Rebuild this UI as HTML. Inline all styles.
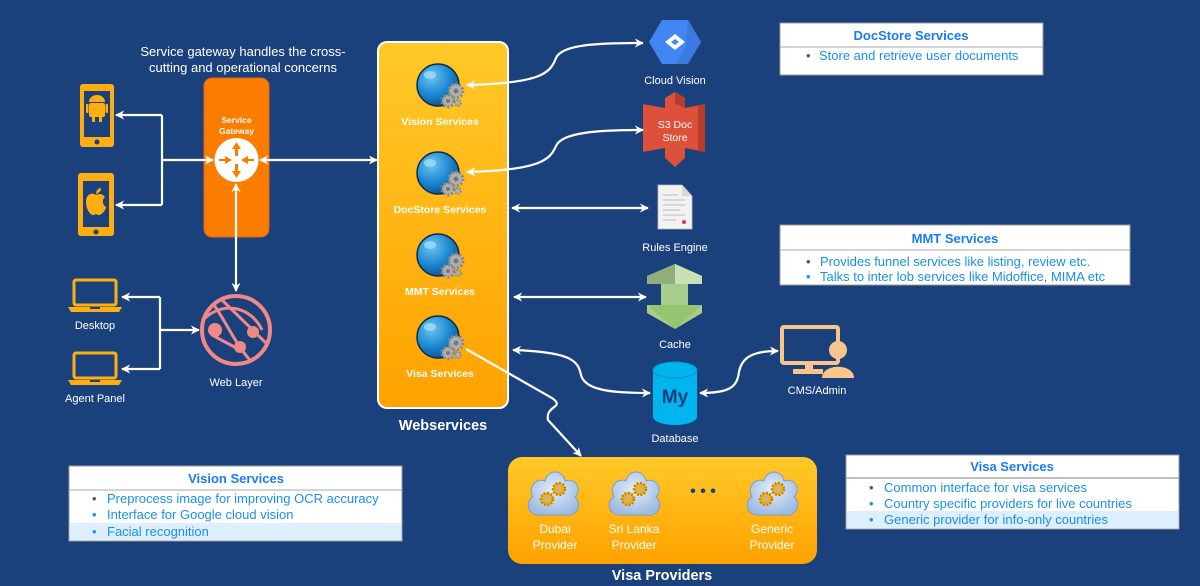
<!DOCTYPE html>
<html><head><meta charset="utf-8">
<style>
html,body{margin:0;padding:0;background:#1b417c;}
svg{display:block;font-family:"Liberation Sans",sans-serif;}
</style></head>
<body>
<svg width="1200" height="586" viewBox="0 0 1200 586" xmlns="http://www.w3.org/2000/svg">
<defs>
<marker id="ah" viewBox="0 0 10 10" refX="9" refY="5" markerWidth="9" markerHeight="9" orient="auto-start-reverse" markerUnits="userSpaceOnUse">
<path d="M0,0 L10,5 L0,10 L3,5 z" fill="#fff"/>
</marker>
<linearGradient id="ws" x1="0" y1="0" x2="0" y2="1"><stop offset="0" stop-color="#ffc928"/><stop offset="1" stop-color="#ffa200"/></linearGradient>
<radialGradient id="gl" cx="0.35" cy="0.3" r="0.75"><stop offset="0" stop-color="#6cc4f0"/><stop offset="0.6" stop-color="#1a86d0"/><stop offset="1" stop-color="#0d4f8a"/></radialGradient>
<radialGradient id="cl" cx="0.5" cy="0.4" r="0.6"><stop offset="0" stop-color="#e4eefa"/><stop offset="1" stop-color="#9dbbe3"/></radialGradient>
<g id="globe">
<circle cx="0" cy="0" r="21" fill="url(#gl)" stroke="#0b2a50" stroke-width="1.5"/>
<ellipse cx="-8" cy="-10" rx="6" ry="4" fill="#9fdcf8" opacity="0.8"/>
<circle cx="18" cy="6" r="7" fill="#b0b0b0" stroke="#888" stroke-width="3" stroke-dasharray="2 2"/>
<circle cx="18" cy="6" r="2.5" fill="#777"/>
<circle cx="10" cy="16" r="6" fill="#b0b0b0" stroke="#888" stroke-width="3" stroke-dasharray="2 2"/>
<circle cx="10" cy="16" r="2" fill="#777"/>
<circle cx="20" cy="18" r="3" fill="#b0b0b0" stroke="#888" stroke-width="2" stroke-dasharray="1.5 1.5"/>
</g>
<g id="cloud">
<path d="M-14,22 C-26,22 -28,8 -20,4 C-26,-6 -16,-16 -8,-12 C-6,-24 10,-24 12,-12 C22,-16 30,-4 22,4 C30,10 24,24 14,22 Z" fill="url(#cl)" stroke="#7a9ccc" stroke-width="1"/>
<circle cx="6" cy="-4" r="6" fill="#f0b020" stroke="#c48400" stroke-width="2.5" stroke-dasharray="2 1.5"/>
<circle cx="6" cy="-4" r="2" fill="#9dbbe3"/>
<circle cx="-6" cy="6" r="6" fill="#f0b020" stroke="#c48400" stroke-width="2.5" stroke-dasharray="2 1.5"/>
<circle cx="-6" cy="6" r="2" fill="#9dbbe3"/>
</g>
<g id="laptop">
<rect x="6" y="0" width="42" height="25" rx="2" fill="none" stroke="#ffae12" stroke-width="3"/>
<path d="M0,27 L54,27 L51,32 L3,32 Z" fill="#ffae12"/>
<rect x="22" y="27" width="10" height="2" fill="#1b417c"/>
</g>
</defs>

<!-- top caption -->
<text x="243" y="56" fill="#fff" font-size="13" text-anchor="middle">Service gateway handles the cross-</text>
<text x="243" y="72" fill="#fff" font-size="13" text-anchor="middle">cutting and operational concerns</text>

<!-- phones -->
<rect x="80" y="84" width="34" height="63" rx="3" fill="#ffae12"/>
<rect x="84" y="91" width="26" height="46" fill="#1b417c"/>
<circle cx="97" cy="142" r="2.5" fill="#1b417c"/>
<rect x="89" y="103" width="16" height="14" rx="2" fill="#ffae12"/>
<path d="M89,102 A8,7 0 0 1 105,102 Z" fill="#ffae12"/>
<rect x="86" y="104" width="2.5" height="9" rx="1" fill="#ffae12"/><rect x="105.5" y="104" width="2.5" height="9" rx="1" fill="#ffae12"/>
<rect x="92" y="116" width="3" height="6" fill="#ffae12"/><rect x="99" y="116" width="3" height="6" fill="#ffae12"/>
<rect x="78" y="173" width="36" height="63" rx="3" fill="#ffae12"/>
<rect x="83" y="181" width="26" height="46" fill="#1b417c"/>
<circle cx="96" cy="232" r="2.5" fill="#1b417c"/>
<path d="M96,195 C92,192 86,194 86,202 C86,210 91,216 94,215 C95,214 97,214 98,215 C101,216 106,210 106,207 C102,205 102,199 105,197 C103,194 99,193 96,195 Z" fill="#ffae12"/>
<path d="M96,194 C96,191 98,188 101,188 C101,191 99,193 96,194 Z" fill="#ffae12"/>

<!-- laptops -->
<use href="#laptop" x="68" y="280"/>
<text x="95" y="329" fill="#fff" font-size="11" text-anchor="middle">Desktop</text>
<use href="#laptop" x="68" y="353"/>
<text x="95" y="402" fill="#fff" font-size="11" text-anchor="middle">Agent Panel</text>

<!-- service gateway -->
<rect x="204" y="78" width="65" height="159" rx="8" fill="#fb7d00" stroke="#e4611e" stroke-width="1"/>
<text x="236.5" y="123" fill="#fff" font-size="8.5" font-weight="bold" text-anchor="middle">Service</text>
<text x="236.5" y="134" fill="#fff" font-size="8.5" font-weight="bold" text-anchor="middle">Gateway</text>
<circle cx="236.5" cy="160" r="22" fill="#fff"/>
<g fill="#fb7d00">
<path d="M236.5,142 L232,149 L235,149 L235,156 L238,156 L238,149 L241,149 Z"/>
<path d="M236.5,178 L232,171 L235,171 L235,164 L238,164 L238,171 L241,171 Z"/>
<path d="M232,160 L225,156 L225,159 L219,159 L219,161 L225,161 L225,164 Z"/>
<path d="M241,160 L248,156 L248,159 L254,159 L254,161 L248,161 L248,164 Z"/>
</g>

<!-- web layer -->
<g stroke="#f08888" fill="none" stroke-width="4">
<circle cx="236" cy="330" r="34" fill="none" stroke-width="4"/>
<path d="M214,305 C225,320 236,345 250,360" stroke-width="3"/>
<path d="M205,318 C225,300 252,308 262,330" stroke-width="3"/>
<path d="M222,300 L268,345" stroke-width="3"/>
<path d="M212,335 L240,350" stroke-width="3"/>
</g>
<circle cx="215" cy="330" r="7" fill="#f08888"/>
<circle cx="253" cy="332" r="6" fill="#f08888"/>
<circle cx="240" cy="347" r="6" fill="#f08888"/>
<text x="236" y="386" fill="#fff" font-size="11" text-anchor="middle">Web Layer</text>

<!-- webservices -->
<rect x="378" y="42" width="130" height="366" rx="9" fill="url(#ws)" stroke="#fff" stroke-width="2"/>
<use href="#globe" x="438" y="85"/>
<text x="440" y="125" fill="#fff" font-size="10.5" font-weight="bold" text-anchor="middle">Vision Services</text>
<use href="#globe" x="438" y="173"/>
<text x="440" y="213" fill="#fff" font-size="10.5" font-weight="bold" text-anchor="middle">DocStore Services</text>
<use href="#globe" x="438" y="255"/>
<text x="440" y="295" fill="#fff" font-size="10.5" font-weight="bold" text-anchor="middle">MMT Services</text>
<use href="#globe" x="438" y="337"/>
<text x="440" y="377" fill="#fff" font-size="10.5" font-weight="bold" text-anchor="middle">Visa Services</text>
<text x="443" y="430" fill="#fff" font-size="14.5" font-weight="bold" text-anchor="middle">Webservices</text>

<!-- right icons -->
<polygon points="662,20 688,20 701,42 688,64 662,64 649,42" fill="#4285f4"/>
<path d="M688,20 L701,42 L688,64 L676,64 L686,46 Z" fill="#3b78e0"/>
<path d="M675,34 L685,42 L675,50 L665,42 Z" fill="#fff"/>
<path d="M675,39 L679,42 L675,45 L671,42 Z" fill="#4285f4"/>
<text x="675" y="84" fill="#fff" font-size="11" text-anchor="middle">Cloud Vision</text>

<path d="M665,98 L675,92 L685,98 L685,108 L705,104 L705,152 L685,148 L685,158 L675,167 L665,158 L665,148 L643,152 L643,104 L665,108 Z" fill="#dd5039"/>
<path d="M675,92 L685,98 L685,108 L675,104 Z M705,104 L705,152 L698,151 L698,106 Z" fill="#b83c2a"/>
<text x="675" y="128" fill="#fff" font-size="10.5" text-anchor="middle">S3 Doc</text>
<text x="675" y="141" fill="#fff" font-size="10.5" text-anchor="middle">Store</text>

<path d="M658,185 L682,185 L692,196 L692,229 L658,229 Z" fill="#f2f2f2" stroke="#bbb" stroke-width="0.8"/>
<path d="M682,185 L682,196 L692,196 Z" fill="#d8d8d8"/>
<g stroke="#aaa" stroke-width="0.8"><line x1="663" y1="195" x2="678" y2="195"/><line x1="663" y1="200" x2="685" y2="200"/><line x1="663" y1="205" x2="685" y2="205"/><line x1="663" y1="210" x2="680" y2="210"/><line x1="663" y1="215" x2="685" y2="215"/><line x1="663" y1="220" x2="676" y2="220"/></g>
<circle cx="684" cy="222" r="2" fill="#c44"/>
<text x="675" y="251" fill="#fff" font-size="11" text-anchor="middle">Rules Engine</text>

<path d="M647,276 L675,264 L702,276 L702,284 L688,284 L688,305 L702,305 L702,313 L675,329 L647,313 L647,305 L661,305 L661,284 L647,284 Z" fill="#a8cc8c"/>
<path d="M647,276 L675,264 L702,276 L702,284 L647,284 Z" fill="#8fae7c"/>
<path d="M675,264 L702,276 L702,284 L675,284 Z" fill="#c8e0b4"/>
<path d="M647,305 L702,305 L675,329 Z" fill="#96c470"/>
<text x="675" y="348" fill="#fff" font-size="11" text-anchor="middle">Cache</text>

<path d="M653,370 L653,417 A22,8 0 0 0 697,417 L697,370 Z" fill="#00b4ee"/>
<ellipse cx="675" cy="370" rx="22" ry="8" fill="#00b4ee" stroke="#0e8fc4" stroke-width="1"/>
<text x="675" y="403" fill="#1b3f7c" font-size="19" font-weight="bold" text-anchor="middle">My</text>
<text x="675" y="442" fill="#fff" font-size="11" text-anchor="middle">Database</text>

<rect x="782" y="327" width="56" height="36" rx="2" fill="none" stroke="#f8c58a" stroke-width="4"/>
<rect x="805" y="363" width="8" height="7" fill="#f8c58a"/>
<rect x="793" y="369" width="30" height="5" fill="#f8c58a"/>
<circle cx="838" cy="350" r="9" fill="#f8c58a"/>
<path d="M822,378 C822,363 854,363 854,378 Z" fill="#f8c58a"/>
<text x="817" y="394" fill="#fff" font-size="11" text-anchor="middle">CMS/Admin</text>

<!-- connectors -->
<g stroke="#fff" stroke-width="2.2" fill="none">
<path d="M162,115 L162,205"/>
<path d="M162,115 L116,115" marker-end="url(#ah)"/>
<path d="M162,205 L116,205" marker-end="url(#ah)"/>
<path d="M162,160 L213,160" marker-end="url(#ah)"/>
<path d="M260,160 L377,160" marker-start="url(#ah)" marker-end="url(#ah)"/>
<path d="M236,184 L236,291" marker-start="url(#ah)" marker-end="url(#ah)"/>
<path d="M160,297 L160,369"/>
<path d="M160,297 L122,297" marker-end="url(#ah)"/>
<path d="M160,369 L122,369" marker-end="url(#ah)"/>
<path d="M160,330 L199,330" marker-end="url(#ah)"/>
<path d="M467,85 C540,83 550,74 556,58 C562,44 600,43 643,43" marker-start="url(#ah)" marker-end="url(#ah)"/>
<path d="M467,172 C540,170 550,160 556,146 C562,132 600,130 643,130" marker-start="url(#ah)" marker-end="url(#ah)"/>
<path d="M512,208 L648,208" marker-start="url(#ah)" marker-end="url(#ah)"/>
<path d="M514,297 L646,297" marker-start="url(#ah)" marker-end="url(#ah)"/>
<path d="M513,350 C570,352 578,360 581,375 C585,390 610,393 650,393" marker-start="url(#ah)" marker-end="url(#ah)"/>
<path d="M700,393 C730,393 737,387 739,372 C742,356 755,351 778,351" marker-start="url(#ah)" marker-end="url(#ah)"/>
<path d="M466,349 L552,398 C566,408 545,405 548,420 L581,456" marker-end="url(#ah)"/>
</g>

<!-- visa providers -->
<rect x="508" y="457" width="309" height="107" rx="14" fill="url(#ws)"/>
<use href="#cloud" x="553" y="493"/>
<use href="#cloud" x="634" y="493"/>
<use href="#cloud" x="772" y="493"/>
<text x="703" y="496" fill="#1b417c" font-size="16" font-weight="bold" text-anchor="middle">• • •</text>
<g fill="#fff" font-size="12" text-anchor="middle">
<text x="555" y="533">Dubai</text><text x="555" y="549">Provider</text>
<text x="634" y="533">Sri Lanka</text><text x="634" y="549">Provider</text>
<text x="772" y="533">Generic</text><text x="772" y="549">Provider</text>
</g>
<text x="662" y="580" fill="#fff" font-size="14.5" font-weight="bold" text-anchor="middle">Visa Providers</text>

<!-- info boxes -->
<g font-size="13">
<rect x="780" y="23" width="263" height="52" fill="#fff" stroke="#999"/>
<line x1="780" y1="47" x2="1043" y2="47" stroke="#aaa"/>
<text x="911" y="40" fill="#1a7cf0" font-weight="bold" text-anchor="middle">DocStore Services</text>
<text x="806" y="60" fill="#555">•</text><text x="819" y="60" fill="#1a8ff0">Store and retrieve user documents</text>

<rect x="780" y="225" width="350" height="60" fill="#fff" stroke="#999"/>
<line x1="780" y1="250" x2="1130" y2="250" stroke="#aaa"/>
<text x="955" y="243" fill="#1a7cf0" font-weight="bold" text-anchor="middle">MMT Services</text>
<text x="806" y="266" fill="#555">•</text><text x="820" y="266" fill="#1a8ff0">Provides funnel services like listing, review etc.</text>
<text x="806" y="281" fill="#1a8ff0">•</text><text x="820" y="281" fill="#1a8ff0">Talks to inter lob services like Midoffice, MIMA etc</text>

<rect x="69" y="466" width="333" height="75" fill="#fff" stroke="#999"/>
<line x1="69" y1="490" x2="402" y2="490" stroke="#aaa"/>
<rect x="70" y="523" width="331" height="17" fill="#ddeefc"/>
<text x="236" y="483" fill="#1a7cf0" font-weight="bold" text-anchor="middle">Vision Services</text>
<text x="92" y="503" fill="#555">•</text><text x="107" y="503" fill="#1a8ff0">Preprocess image for improving OCR accuracy</text>
<text x="92" y="519" fill="#1a8ff0">•</text><text x="107" y="519" fill="#1a8ff0">Interface for Google cloud vision</text>
<text x="92" y="536" fill="#1a8ff0">•</text><text x="107" y="536" fill="#1a8ff0">Facial recognition</text>

<rect x="846" y="455" width="333" height="74" fill="#fff" stroke="#999"/>
<line x1="846" y1="478" x2="1179" y2="478" stroke="#aaa" stroke-width="1.5"/>
<rect x="847" y="511" width="331" height="17" fill="#ddeefc"/>
<text x="1012" y="471" fill="#1a7cf0" font-weight="bold" text-anchor="middle">Visa Services</text>
<text x="869" y="492" fill="#555">•</text><text x="884" y="492" fill="#1a8ff0">Common interface for visa services</text>
<text x="869" y="508" fill="#1a8ff0">•</text><text x="884" y="508" fill="#1a8ff0">Country specific providers for live countries</text>
<text x="869" y="524" fill="#1a8ff0">•</text><text x="884" y="524" fill="#1a8ff0">Generic provider for info-only countries</text>
</g>
</svg>
</body></html>
